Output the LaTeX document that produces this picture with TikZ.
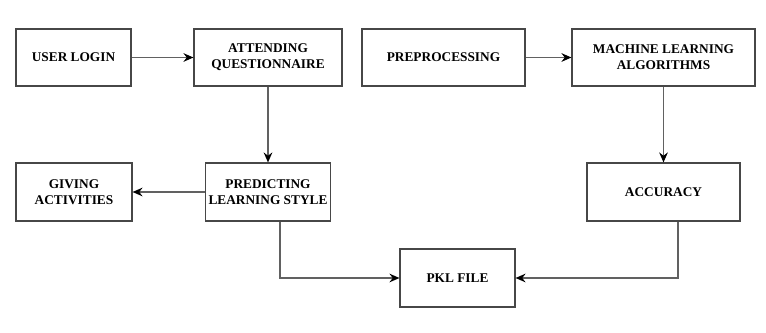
\documentclass[tikz,border=0pt]{standalone}
\usepackage{fontspec}
\setmainfont{Liberation Serif}
\usetikzlibrary{arrows.meta}
\begin{document}
\begin{tikzpicture}[x=0.75pt,y=-0.75pt,
  stepbox/.style={draw=black!72,line width=0.85pt,fill=white,inner sep=0pt,
    align=center,font=\bfseries\fontsize{10}{11.8}\selectfont,text=black},
  flow/.style={draw=black!62,line width=1.05pt,-{Stealth[length=7.5pt,width=6.5pt,inset=2.5pt,black]}}]
\useasboundingbox (0,0) rectangle (766,332);
% top row
\node[stepbox,minimum width=115*0.75pt,minimum height=57*0.75pt] (login) at (73.5,57.5) {USER LOGIN};
\node[stepbox,minimum width=148*0.75pt,minimum height=57*0.75pt] (quest) at (268,57.5) {ATTENDING\\QUESTIONNAIRE};
\node[stepbox,minimum width=163*0.75pt,minimum height=57*0.75pt] (prep) at (443.5,57.5) {PREPROCESSING};
\node[stepbox,minimum width=183*0.75pt,minimum height=57*0.75pt] (ml) at (663.5,57.5) {MACHINE LEARNING\\ALGORITHMS};
% middle row
\node[stepbox,minimum width=116*0.75pt,minimum height=58*0.75pt] (give) at (74,192) {GIVING\\ACTIVITIES};
\node[stepbox,minimum width=125*0.75pt,minimum height=58*0.75pt] (pred) at (268,192) {PREDICTING\\LEARNING STYLE};
\node[stepbox,minimum width=153*0.75pt,minimum height=58*0.75pt] (acc) at (663.5,192) {ACCURACY};
% bottom
\node[stepbox,minimum width=115*0.75pt,minimum height=58*0.75pt] (pkl) at (457.5,278) {PKL FILE};
% connectors
\draw[flow] (login) -- (quest);
\draw[flow] (prep) -- (ml);
\draw[flow] (quest) -- (pred);
\draw[flow] (ml) -- (acc);
\draw[flow] (pred) -- (give);
\draw[flow] (pred.south) ++(12,0) coordinate (p1) |- (pkl.west);
\draw[flow] (acc.south) ++(14.5,0) coordinate (a1) |- (pkl.east);
\end{tikzpicture}
\end{document}
